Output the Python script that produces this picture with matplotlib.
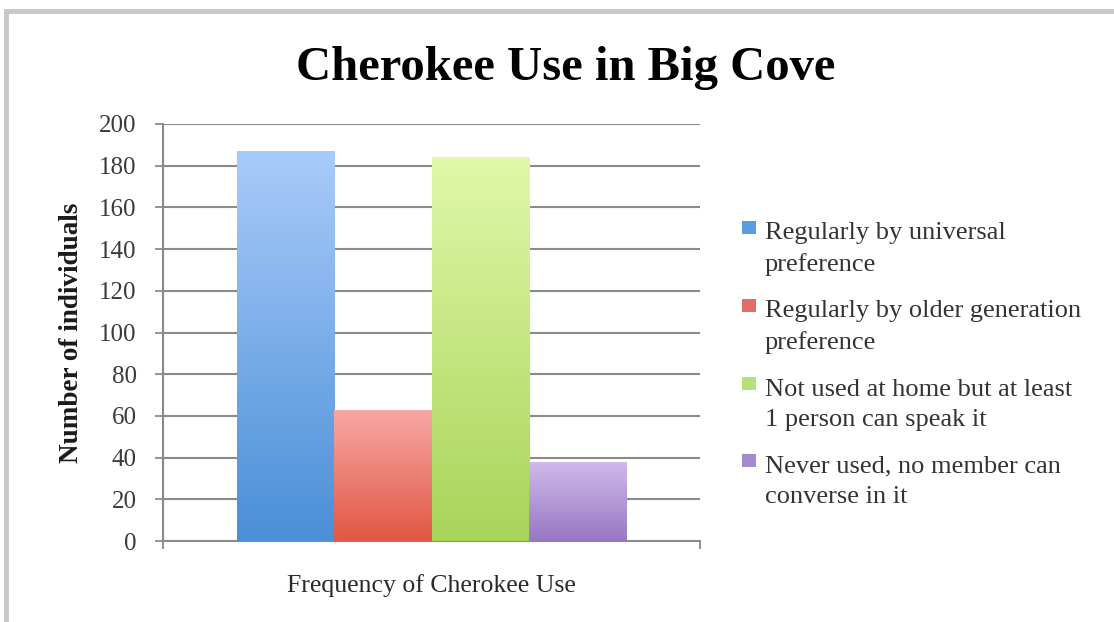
import numpy as np
import matplotlib
matplotlib.use("Agg")
import matplotlib.pyplot as plt
from matplotlib.patches import Patch, Rectangle
from matplotlib.colors import LinearSegmentedColormap
from matplotlib.legend_handler import HandlerPatch

# Data
categories = ["Regularly by universal\npreference",
              "Regularly by older generation\npreference",
              "Not used at home but at least\n1 person can speak it",
              "Never used, no member can\nconverse in it"]
values = [187, 63, 184, 38]
top_colors = ["#a9cbf9", "#f9a8a4", "#e0f8a8", "#d0baed"]
bottom_colors = ["#4a8fd8", "#df5745", "#a8d45a", "#9877c2"]
legend_colors = ["#5b9be0", "#e46c66", "#b8e07a", "#a48ad0"]
yticks = list(range(0, 201, 20))

plt.rcParams['font.family'] = ['Liberation Serif', 'DejaVu Serif']

fig = plt.figure(figsize=(11.14, 6.22), dpi=100)
ax = fig.add_axes([163/1114, 1-541/622, (700-163)/1114, (541-124)/622])

n = len(values)
offsets = np.arange(n) - (n - 1) / 2
bars = ax.bar(offsets, values, width=1.0, color="none", edgecolor="none", zorder=3)
grad = np.linspace(0, 1, 256).reshape(-1, 1)
for b, ct, cb in zip(bars, top_colors, bottom_colors):
    cmap = LinearSegmentedColormap.from_list("g", [cb, ct])
    x0 = b.get_x(); x1 = x0 + b.get_width(); h = b.get_height()
    im = ax.imshow(grad, cmap=cmap, extent=[x0, x1, 0, h], origin="lower",
                   aspect="auto", zorder=3, interpolation="bilinear")
    im.set_clip_path(b)

half = 4 * 537 / 390 / 2
ax.set_xlim(-half, half)
ax.set_ylim(0, 200)
ax.set_yticks(yticks)
ax.set_xticks([-half, half])
ax.set_xticklabels(["", ""])
ax.tick_params(axis="x", length=6, width=1.3, color="#8a8a8a", direction="out")
ax.tick_params(axis="y", length=6, width=1.3, color="#8a8a8a", direction="out",
               labelsize=18, labelcolor="#3a3a3a", pad=13)
ax.grid(axis="y", color="#8a8a8a", linewidth=1.5, zorder=0)
ax.set_axisbelow(True)
for s in ["top", "right"]:
    ax.spines[s].set_visible(False)
for s in ["left", "bottom"]:
    ax.spines[s].set_color("#8a8a8a")
    ax.spines[s].set_linewidth(1.5)

ax.set_ylabel("Number of individuals", fontsize=19.5, fontweight="bold",
              color="#1a1a1a", labelpad=11)
ax.set_xlabel("Frequency of Cherokee Use", fontsize=18.5, color="#2a2a2a",
              labelpad=14)

fig.text(566/1114, 1-68/622, "Cherokee Use in Big Cove", ha="center", va="center",
         fontsize=35, fontweight="bold", color="#000000")


class TopHandler(HandlerPatch):
    def create_artists(self, legend, orig_handle, xdescent, ydescent, width, height,
                       fontsize, trans):
        s = 0.5 * fontsize
        r = Rectangle((-xdescent + width - s, -ydescent + height / 2 - s / 2 + 0.78 * fontsize),
                      s, s, facecolor=orig_handle.get_facecolor(), edgecolor="none",
                      transform=trans)
        return [r]


handles = [Patch(facecolor=c, edgecolor="none") for c in legend_colors]
leg = ax.legend(handles, categories, loc="upper left",
                handler_map={Patch: TopHandler()},
                bbox_to_anchor=(741/1114, 1-222/622), bbox_transform=fig.transFigure,
                frameon=False, fontsize=19, handlelength=0.55, handleheight=0.55,
                handletextpad=0.35, labelspacing=0.92, borderaxespad=0, borderpad=0)
for t in leg.get_texts():
    t.set_color("#333333")
    t.set_linespacing(1.5)

# outer frame
fig.patches.append(Rectangle((6/1114, -0.01), 1.1, 1 - 11/622 + 0.01, transform=fig.transFigure,
                             fill=False, edgecolor="#c8c8c8", linewidth=3.5))

fig.savefig("out.png", dpi=100)
